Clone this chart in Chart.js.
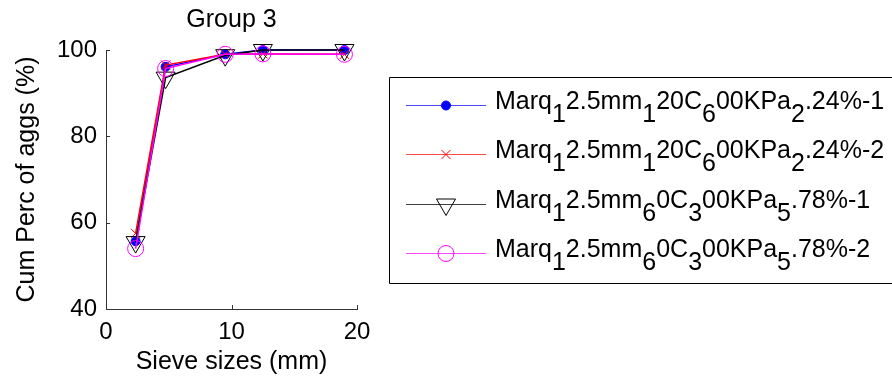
<!DOCTYPE html>
<html>
<head>
<meta charset="utf-8">
<script src="https://cdn.jsdelivr.net/npm/chart.js@4.4.1/dist/chart.umd.min.js"></script>
<style>
  html, body { margin: 0; padding: 0; background: #fff; overflow: hidden; }
  #wrap { position: relative; width: 892px; height: 379px; overflow: hidden; }
  #sieveChart { display: block; width: 892px !important; height: 379px !important; }
</style>
</head>
<body>
<div id="wrap"><canvas id="sieveChart" width="892" height="379"></canvas></div>
<script>
// sieve openings (mm) and cumulative passing (%) per run
const sieveSizes = [2.36, 4.75, 9.5, 12.5, 19];
const mixA1 = [55.7, 96.1, 99.0, 100, 100];
const mixA2 = [57.5, 96.5, 99.0, 99.1, 99.0];
const mixB1 = [55.5, 93.6, 98.8, 100, 100];
const mixB2 = [54.0, 95.7, 99.0, 99.1, 99.0];

// "_x" means x is drawn as a subscript
const seriesLabels = [
    'Marq_12.5mm_120C_600KPa_2.24%-1',
    'Marq_12.5mm_120C_600KPa_2.24%-2',
    'Marq_12.5mm_60C_300KPa_5.78%-1',
    'Marq_12.5mm_60C_300KPa_5.78%-2'
];
const seriesColors = ['#0000ff', '#ff0000', '#000000', '#ff00ff'];
const legendLineColors = ['#4848ff', '#ff4848', '#404040', '#ff48ff'];
const xTicks = [0, 10, 20];
const yTicks = [40, 60, 80, 100];

const FONT = '"Liberation Sans", Arial, Helvetica, sans-serif';

function toPoints(values) {
    return sieveSizes.map((x, i) => ({ x: x, y: values[i] }));
}

const series = [
    { values: mixA1, style: 'circle', radius: 4.5, fill: true, order: 4 },
    { values: mixA2, style: 'crossRot', radius: 6.5, fill: false, order: 3 },
    { values: mixB1, style: 'triangle', radius: 11, fill: false, order: 2, rotation: 180 },
    { values: mixB2, style: 'circle', radius: 8, fill: false, order: 1 }
];

const datasets = series.map((s, i) => ({
    label: seriesLabels[i],
    data: toPoints(s.values),
    borderColor: seriesColors[i],
    backgroundColor: s.fill ? seriesColors[i] : 'rgba(0,0,0,0)',
    borderWidth: 1.5,
    pointStyle: s.style,
    pointRadius: s.radius,
    pointRotation: s.rotation || 0,
    pointBorderColor: seriesColors[i],
    pointBackgroundColor: s.fill ? seriesColors[i] : 'rgba(0,0,0,0)',
    pointBorderWidth: 1,
    tension: 0,
    clip: false,
    order: s.order
}));

// draws a label, dropping "_x" characters to subscript position
function drawSubText(ctx, text, x, y) {
    let cx = x;
    for (let i = 0; i < text.length; i++) {
        let ch = text[i];
        let dy = 0;
        if (ch === '_' && i + 1 < text.length) {
            i++;
            ch = text[i];
            dy = 13;
        }
        ctx.fillText(ch, cx, y + dy);
        cx += ctx.measureText(ch).width;
    }
}

// small inward tick marks on both axes
const innerTicks = {
    id: 'innerTicks',
    afterDraw(chart) {
        const ctx = chart.ctx;
        const area = chart.chartArea;
        const xs = chart.scales.x, ys = chart.scales.y;
        ctx.save();
        ctx.strokeStyle = '#333';
        ctx.lineWidth = 1;
        ctx.beginPath();
        xTicks.forEach(v => {
            const px = Math.round(xs.getPixelForValue(v)) + 0.5;
            ctx.moveTo(px, area.bottom);
            ctx.lineTo(px, area.bottom - 4);
        });
        yTicks.forEach(v => {
            const py = Math.round(ys.getPixelForValue(v)) + 0.5;
            ctx.moveTo(area.left, py);
            ctx.lineTo(area.left + 4, py);
        });
        ctx.stroke();
        ctx.restore();
    }
};

// boxed legend on the right, running off the canvas edge
const legendBox = {
    id: 'legendBox',
    afterDraw(chart) {
        const ctx = chart.ctx;
        const left = 389.5, top = 77.5, bottom = 283.5, far = 960;
        ctx.save();
        ctx.strokeStyle = '#000';
        ctx.lineWidth = 1;
        ctx.beginPath();
        ctx.moveTo(left, top);
        ctx.lineTo(far, top);
        ctx.moveTo(left, top);
        ctx.lineTo(left, bottom);
        ctx.lineTo(far, bottom);
        ctx.stroke();
        ctx.font = '25px ' + FONT;
        ctx.textBaseline = 'alphabetic';
        ctx.textAlign = 'left';
        chart.data.datasets.forEach((ds, i) => {
            const y = Math.round(105 + i * 49.4) + 0.5;
            ctx.strokeStyle = legendLineColors[i];
            ctx.lineWidth = 1;
            ctx.beginPath();
            ctx.moveTo(406, y);
            ctx.lineTo(486, y);
            ctx.stroke();
            ctx.strokeStyle = seriesColors[i];
            ctx.fillStyle = ds.pointBackgroundColor;
            Chart.helpers.drawPoint(ctx, {
                pointStyle: ds.pointStyle,
                radius: ds.pointRadius,
                rotation: ds.pointRotation,
                borderWidth: 1
            }, 446, y);
            ctx.fillStyle = '#000';
            drawSubText(ctx, ds.label, 495, y + 3);
        });
        ctx.restore();
    }
};

const ctx = document.getElementById('sieveChart').getContext('2d');
new Chart(ctx, {
    type: 'line',
    data: { datasets: datasets },
    options: {
        responsive: false,
        animation: false,
        events: [],
        layout: { padding: { left: 0, right: 535, top: 0, bottom: 0 } },
        plugins: {
            legend: { display: false },
            tooltip: { enabled: false },
            title: {
                display: true,
                text: 'Group 3',
                fullSize: false,
                color: '#000',
                font: { family: FONT, size: 25, weight: 'normal' },
                padding: { top: 5, bottom: 15 }
            }
        },
        scales: {
            x: {
                type: 'linear',
                min: 0,
                max: 20,
                afterBuildTicks: s => { s.ticks = xTicks.map(v => ({ value: v })); },
                afterFit: s => { s.height = 70; },
                grid: { display: true, drawOnChartArea: false, drawTicks: false },
                border: { display: true, color: '#333', width: 1 },
                ticks: {
                    color: '#000',
                    padding: 9,
                    maxRotation: 0,
                    font: { family: FONT, size: 24 }
                },
                title: {
                    display: true,
                    text: 'Sieve sizes (mm)',
                    color: '#000',
                    font: { family: FONT, size: 25 },
                    padding: { top: 0, bottom: 2 }
                }
            },
            y: {
                type: 'linear',
                min: 40,
                max: 100,
                afterBuildTicks: s => { s.ticks = yTicks.map(v => ({ value: v })); },
                afterFit: s => { s.width = 106; },
                grid: { display: true, drawOnChartArea: false, drawTicks: false },
                border: { display: true, color: '#333', width: 1 },
                ticks: {
                    color: '#000',
                    padding: 9,
                    font: { family: FONT, size: 24 }
                },
                title: {
                    display: true,
                    text: 'Cum Perc of aggs (%)',
                    color: '#000',
                    font: { family: FONT, size: 25 },
                    padding: { top: 12, bottom: 0 }
                }
            }
        }
    },
    plugins: [innerTicks, legendBox]
});
</script>
</body>
</html>
